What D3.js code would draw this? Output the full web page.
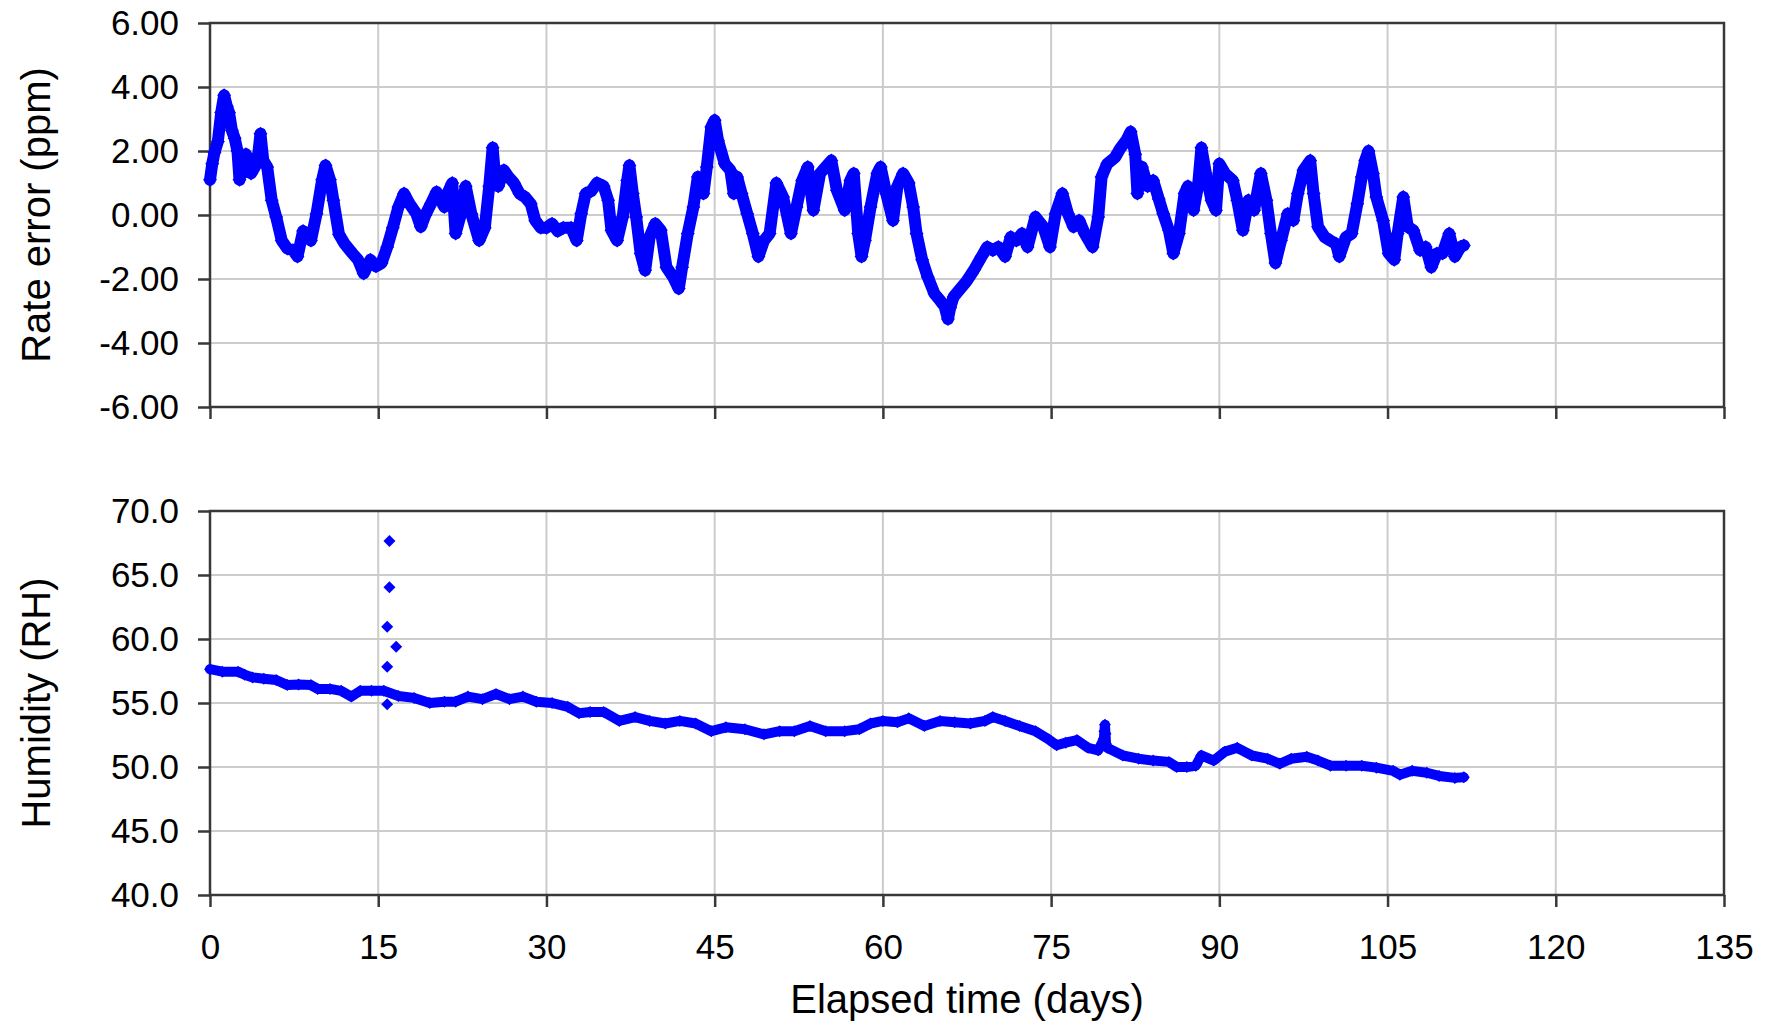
<!DOCTYPE html>
<html>
<head>
<meta charset="utf-8">
<script src="https://cdn.jsdelivr.net/npm/d3@7"></script>
<style>
  html, body { margin: 0; padding: 0; background: #fff; }
  svg text { font-family: "Liberation Sans", Arial, sans-serif; fill: #000; }
</style>
</head>
<body>
<svg id="chart" width="1769" height="1026"></svg>
<script>
// ---- axis ticks ----
const dayTicks = [0, 15, 30, 45, 60, 75, 90, 105, 120, 135];
const rateTicks = [-6, -4, -2, 0, 2, 4, 6];
const humidityTicks = [40, 45, 50, 55, 60, 65, 70];

// ---- clock rate error (ppm) against elapsed days ----
const rateDays = [
  0.0, 0.2, 0.4, 0.7, 1.0, 1.26, 1.5, 1.7, 1.95, 2.2, 2.45, 2.63, 2.9, 3.2, 3.45, 3.66,
  4.0, 4.3, 4.5, 4.75, 5.1, 5.5, 5.9, 6.4, 6.9, 7.4, 7.8, 8.3, 8.65, 9.0, 9.5, 10.0,
  10.3, 10.7, 11.0, 11.5, 12.0, 12.7, 13.2, 13.7, 14.3, 14.8, 15.3, 15.8, 16.3, 16.8,
  17.3, 17.8, 18.4, 18.8, 19.2, 19.7, 20.2, 20.6, 20.9, 21.3, 21.6, 21.9, 22.3, 22.8,
  23.3, 24.0, 24.5, 24.9, 25.2, 25.4, 25.7, 26.2, 26.6, 27.1, 27.6, 28.1, 28.6, 29.0,
  29.5, 30.0, 30.5, 31.0, 31.5, 32.2, 32.7, 33.1, 33.5, 34.0, 34.5, 35.1, 35.5, 35.8,
  36.3, 36.8, 37.2, 37.4, 37.7, 38.0, 38.4, 38.8, 39.2, 39.7, 40.2, 40.7, 41.3, 41.8,
  42.1, 42.6, 43.1, 43.5, 44.0, 44.3, 44.7, 45.0, 45.3, 45.9, 46.4, 46.7, 47.0, 47.4,
  47.9, 48.4, 48.9, 49.4, 49.9, 50.5, 51.1, 51.8, 52.3, 52.8, 53.3, 53.8, 54.4, 54.9,
  55.4, 55.9, 56.6, 57.1, 57.4, 57.8, 58.1, 58.4, 58.9, 59.5, 59.8, 60.3, 60.9, 61.3,
  61.8, 62.3, 62.7, 63.0, 63.5, 64.0, 64.6, 65.1, 65.5, 65.8, 66.0, 66.3, 66.8, 67.4,
  68.1, 68.8, 69.3, 69.8, 70.3, 70.9, 71.4, 71.9, 72.4, 72.9, 73.6, 74.3, 74.9, 75.4,
  76.0, 76.5, 77.0, 77.5, 78.0, 78.7, 79.2, 79.5, 80.0, 80.7, 81.2, 81.7, 82.1, 82.5,
  82.7, 83.1, 83.6, 84.1, 84.6, 85.0, 85.5, 85.9, 86.4, 86.9, 87.2, 87.7, 88.1, 88.4,
  88.8, 89.3, 89.7, 90.0, 90.5, 91.2, 91.6, 92.1, 92.6, 93.1, 93.7, 94.2, 94.6, 95.0,
  95.5, 96.1, 96.6, 97.0, 97.5, 98.1, 98.4, 98.8, 99.4, 99.9, 100.4, 100.7, 101.3,
  101.8, 102.3, 102.7, 103.0, 103.3, 103.7, 104.0, 104.6, 105.1, 105.6, 105.9, 106.4,
  106.8, 107.3, 107.9, 108.4, 108.9, 109.4, 109.9, 110.5, 111.0, 111.5, 111.8
];
const rateValues = [
  1.10, 1.60, 1.95, 2.30, 3.20, 3.74, 3.40, 3.20, 2.65, 2.40, 2.00, 1.10, 1.60, 1.90, 1.70, 1.30,
  1.50, 1.90, 2.54, 1.70, 1.50, 0.46, -0.06, -0.80, -1.05, -1.10, -1.30, -0.50, -0.60, -0.80, 0.04, 1.10,
  1.55, 1.10, 0.46, -0.60, -0.90, -1.20, -1.40, -1.83, -1.40, -1.60, -1.50, -1.00, -0.40, 0.25,
  0.67, 0.35, 0.04, -0.37, 0.00, 0.35, 0.72, 0.46, 0.25, 0.77, 1.00, -0.58, -0.06, 0.90,
  0.04, -0.80, -0.40, 0.90, 2.10, 1.30, 0.90, 1.40, 1.20, 1.00, 0.67, 0.56, 0.35, -0.17,
  -0.40, -0.40, -0.27, -0.50, -0.40, -0.40, -0.80, 0.04, 0.67, 0.75, 1.00, 0.90, 0.46, -0.48,
  -0.80, -0.06, 1.08, 1.55, 0.67, -0.06, -1.20, -1.73, -0.69, -0.27, -0.48, -1.63, -1.94, -2.30,
  -1.63, -0.58, 0.25, 1.19, 0.67, 1.50, 2.75, 2.96, 2.33, 1.60, 1.40, 0.67, 1.19, 0.67,
  0.04, -0.58, -1.30, -0.80, -0.58, 1.00, 0.56, -0.58, 0.25, 1.08, 1.50, 0.15, 1.30, 1.50,
  1.70, 0.77, 0.15, 1.08, 1.30, -0.58, -1.30, -0.80, 0.25, 1.30, 1.50, 0.67, -0.17, 0.90,
  1.30, 1.00, 0.25, -0.58, -1.40, -1.94, -2.46, -2.67, -2.85, -3.25, -2.90, -2.56, -2.35, -2.10,
  -1.73, -1.30, -1.00, -1.10, -1.00, -1.30, -0.69, -0.80, -0.58, -1.00, -0.06, -0.37, -1.00, 0.04,
  0.67, 0.04, -0.37, -0.17, -0.58, -1.00, -0.06, 1.19, 1.60, 1.80, 2.10, 2.33, 2.60, 1.90,
  0.67, 1.50, 0.90, 1.08, 0.50, 0.04, -0.48, -1.20, -0.58, 0.67, 0.90, 0.15, 0.90, 2.10,
  1.30, 0.46, 0.15, 1.60, 1.30, 1.08, 0.46, -0.48, 0.46, 0.15, 1.30, 0.46, -0.58, -1.50,
  -0.80, 0.04, -0.17, 0.67, 1.40, 1.70, 0.67, -0.37, -0.69, -0.80, -0.90, -1.30, -0.69,
  -0.58, 0.35, 1.19, 1.70, 2.00, 1.30, 0.56, -0.17, -1.20, -1.40, -0.58, 0.56,
  -0.37, -0.48, -1.10, -1.00, -1.63, -1.20, -1.20, -0.58, -1.30, -1.00, -0.95
];

// ---- relative humidity (RH) against elapsed days ----
const humidityDays = [
  0.0, 1.1, 2.5, 3.1, 3.8, 4.8, 5.9, 6.9, 7.9, 9.0, 9.6, 10.7, 11.7, 12.6, 13.4, 14.4,
  15.5, 16.8, 18.2, 19.6, 20.9, 21.9, 23.0, 24.3, 25.5, 26.7, 27.9, 29.1, 30.5, 31.9,
  32.9, 33.9, 35.1, 36.5, 37.9, 39.2, 40.6, 41.9, 43.3, 44.7, 46.0, 47.7, 49.4, 50.8,
  52.1, 53.5, 54.9, 56.6, 57.9, 58.9, 60.0, 61.3, 62.3, 63.7, 65.1, 66.4, 67.8, 69.1,
  69.8, 70.9, 72.2, 73.6, 74.8, 75.5, 76.3, 77.3, 78.3, 79.2, 79.7, 79.75, 79.8, 79.85,
  79.9, 80.0, 81.4, 82.8, 84.1, 85.5, 86.2, 87.1, 87.9, 88.4, 89.5, 90.5, 91.6, 92.9,
  94.3, 95.4, 96.4, 97.8, 98.8, 99.9, 101.3, 102.7, 104.0, 105.5, 106.1, 107.2, 108.5,
  109.6, 111.0, 111.8
];
const humidityValues = [
  57.64, 57.45, 57.45, 57.20, 57.00, 56.90, 56.80, 56.40, 56.45, 56.40, 56.10, 56.10, 55.95, 55.50, 55.95, 55.95,
  55.95, 55.55, 55.40, 55.00, 55.10, 55.10, 55.50, 55.30, 55.70, 55.30, 55.50, 55.10, 55.00, 54.70,
  54.20, 54.30, 54.30, 53.60, 53.90, 53.60, 53.40, 53.60, 53.40, 52.80, 53.10, 52.95, 52.55, 52.80,
  52.80, 53.20, 52.80, 52.80, 52.95, 53.40, 53.60, 53.50, 53.80, 53.20, 53.60, 53.50, 53.40, 53.60,
  53.90, 53.60, 53.20, 52.80, 52.15, 51.70, 51.90, 52.10, 51.50, 51.30, 52.20, 52.80, 53.30, 52.60,
  51.80, 51.50, 50.90, 50.65, 50.50, 50.40, 50.00, 50.00, 50.10, 50.90, 50.50, 51.20, 51.50, 50.90,
  50.65, 50.25, 50.65, 50.80, 50.50, 50.10, 50.10, 50.10, 49.95, 49.70, 49.40, 49.70, 49.55,
  49.30, 49.15, 49.20
];
// isolated humidity readings around day 16
const spikeDays = [16.0, 16.0, 15.8, 16.6, 15.8, 15.8];
const spikeValues = [67.66, 64.04, 60.96, 59.40, 57.84, 54.90];

// ---- layout ----
const svg = d3.select("#chart");
const left = 210, right = 1724;
const panels = [
  { top: 23, bottom: 407 },
  { top: 511, bottom: 895 }
];
const blue = "#0000ff";
const gridColor = "#cccccc";
const axisColor = "#383838";
const tickLen = 12;

const x = d3.scaleLinear().domain([0, 135]).range([left, right]);
const yRate = d3.scaleLinear().domain([-6, 6]).range([panels[0].bottom, panels[0].top]);
const yHum = d3.scaleLinear().domain([40, 70]).range([panels[1].bottom, panels[1].top]);

const rateData = rateDays.map((d, i) => ({ day: d, v: rateValues[i] }));
const humData = humidityDays.map((d, i) => ({ day: d, v: humidityValues[i] }));
const spikeData = spikeDays.map((d, i) => ({ day: d, v: spikeValues[i] }));

const diamond = r => `M0,${-r}L${r},0L0,${r}L${-r},0Z`;

function drawPanel(y, yTicks, fmt, panel, showXLabels, series, extraPoints, bandWidth, markerR) {
  const g = svg.append("g");

  // gridlines
  g.append("g").selectAll("line").data(yTicks).join("line")
    .attr("x1", left).attr("x2", right)
    .attr("y1", d => y(d)).attr("y2", d => y(d))
    .attr("stroke", gridColor).attr("stroke-width", 2);
  g.append("g").selectAll("line").data(dayTicks).join("line")
    .attr("x1", d => x(d)).attr("x2", d => x(d))
    .attr("y1", panel.top).attr("y2", panel.bottom)
    .attr("stroke", gridColor).attr("stroke-width", 2);

  // axes
  const yAxis = g.append("g").attr("transform", `translate(${left},0)`)
    .call(d3.axisLeft(y).tickValues(yTicks).tickSize(tickLen).tickPadding(19)
      .tickFormat(fmt));
  const xAxis = g.append("g").attr("transform", `translate(0,${panel.bottom})`)
    .call(d3.axisBottom(x).tickValues(dayTicks).tickSize(tickLen).tickPadding(27)
      .tickFormat(showXLabels ? (d => String(d)) : () => ""));
  [yAxis, xAxis].forEach(a => {
    a.select(".domain").remove();
    a.selectAll(".tick line").attr("stroke", axisColor).attr("stroke-width", 2.5);
    a.selectAll(".tick text").attr("font-size", 35)
      .attr("font-family", '"Liberation Sans", Arial, sans-serif').attr("fill", "#000");
  });

  // frame
  g.append("rect")
    .attr("x", left).attr("y", panel.top)
    .attr("width", right - left).attr("height", panel.bottom - panel.top)
    .attr("fill", "none").attr("stroke", axisColor).attr("stroke-width", 2.5);

  // data: dense readings drawn as a run of diamond markers
  const line = d3.line().x(d => x(d.day)).y(d => y(d.v));
  g.append("path").datum(series)
    .attr("d", line)
    .attr("fill", "none").attr("stroke", blue)
    .attr("stroke-width", bandWidth).attr("stroke-linejoin", "round").attr("stroke-linecap", "round");
  g.append("g").selectAll("path").data(series).join("path")
    .attr("d", diamond(markerR))
    .attr("transform", d => `translate(${x(d.day)},${y(d.v)})`)
    .attr("fill", blue);
  g.append("g").selectAll("path").data(extraPoints).join("path")
    .attr("d", diamond(6))
    .attr("transform", d => `translate(${x(d.day)},${y(d.v)})`)
    .attr("fill", blue);
}

drawPanel(yRate, rateTicks, d => d.toFixed(2), panels[0], false, rateData, [], 12, 7);
drawPanel(yHum, humidityTicks, d => d.toFixed(1), panels[1], true, humData, spikeData, 10, 6);

// axis titles
const titleFont = 40;
svg.append("text")
  .attr("transform", `translate(50,${(panels[0].top + panels[0].bottom) / 2}) rotate(-90)`)
  .attr("text-anchor", "middle").attr("font-size", titleFont)
  .text("Rate error (ppm)");
svg.append("text")
  .attr("transform", `translate(50,${(panels[1].top + panels[1].bottom) / 2}) rotate(-90)`)
  .attr("text-anchor", "middle").attr("font-size", titleFont)
  .text("Humidity (RH)");
svg.append("text")
  .attr("x", (left + right) / 2).attr("y", 1013)
  .attr("text-anchor", "middle").attr("font-size", titleFont)
  .text("Elapsed time (days)");
</script>
</body>
</html>
